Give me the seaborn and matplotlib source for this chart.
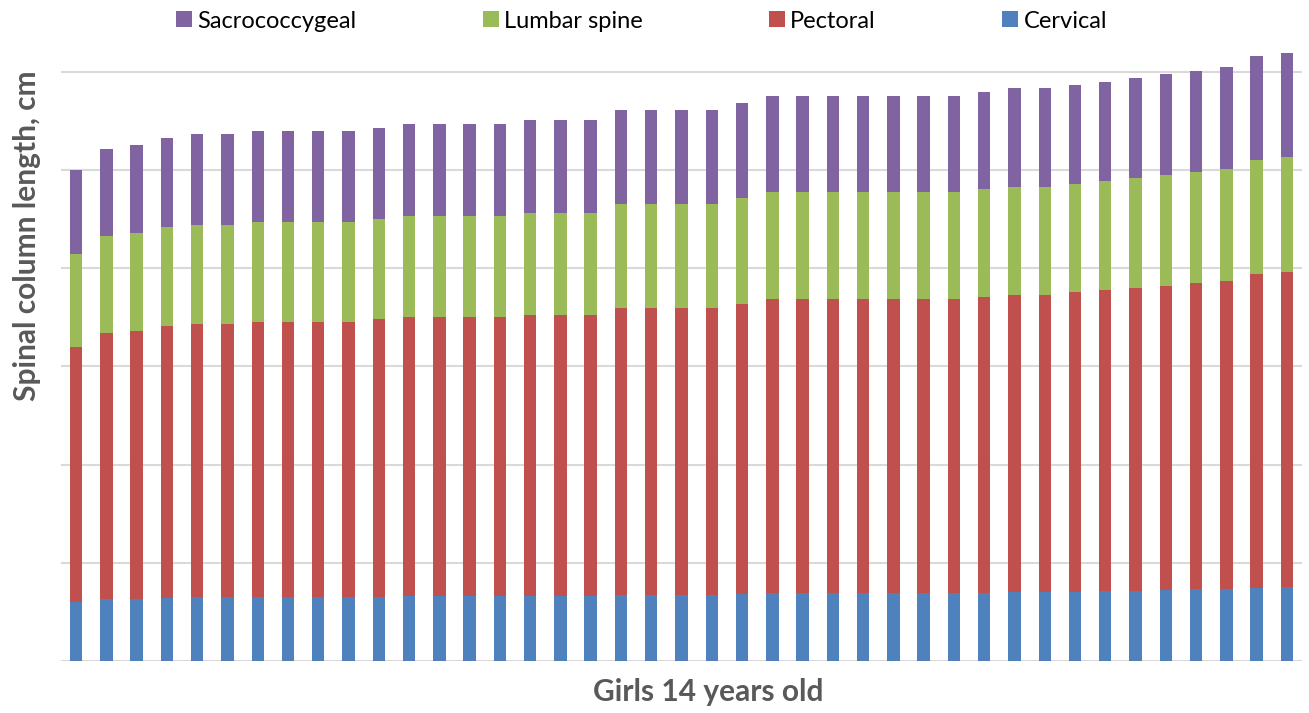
import matplotlib
matplotlib.use("Agg")
import matplotlib.pyplot as plt
from matplotlib.patches import Patch
import numpy as np
import pandas as pd
import seaborn as sns

# ---- data (cm), one value per girl ----
girls = [str(i) for i in range(1, 42)]
cervical = [6.04, 6.28, 6.34, 6.45, 6.49, 6.49, 6.52, 6.52, 6.52, 6.52,
            6.55, 6.62, 6.62, 6.59, 6.59, 6.65, 6.65, 6.65, 6.75, 6.75,
            6.75, 6.75, 6.85, 6.92, 6.92, 6.92, 6.92, 6.92, 6.92, 6.92,
            6.96, 7.03, 7.03, 7.06, 7.10, 7.13, 7.20, 7.30, 7.33, 7.46, 7.51]
pectoral = [25.97, 27.12, 27.30, 27.63, 27.83, 27.83, 28.00, 28.00, 28.00, 28.00,
            28.25, 28.41, 28.41, 28.44, 28.44, 28.58, 28.58, 28.58, 29.20, 29.20,
            29.20, 29.20, 29.54, 29.91, 29.91, 29.91, 29.94, 29.94, 29.94, 29.94,
            30.11, 30.27, 30.27, 30.52, 30.68, 30.88, 31.02, 31.19, 31.40, 31.95, 32.13]
lumbar = [9.47, 9.85, 9.91, 10.08, 10.08, 10.08, 10.18, 10.18, 10.18, 10.18,
          10.21, 10.29, 10.29, 10.29, 10.32, 10.39, 10.39, 10.39, 10.56, 10.56,
          10.56, 10.56, 10.76, 10.90, 10.90, 10.90, 10.87, 10.87, 10.87, 10.87,
          10.96, 11.00, 11.00, 11.03, 11.13, 11.21, 11.27, 11.34, 11.37, 11.61, 11.68]
sacrococcygeal = [8.52, 8.92, 9.00, 9.07, 9.24, 9.24, 9.30, 9.30, 9.30, 9.30,
                  9.30, 9.36, 9.36, 9.36, 9.37, 9.44, 9.44, 9.44, 9.63, 9.63,
                  9.63, 9.63, 9.70, 9.84, 9.84, 9.84, 9.84, 9.84, 9.84, 9.84,
                  9.91, 10.02, 10.02, 10.05, 10.08, 10.18, 10.26, 10.28, 10.36, 10.56, 10.56]

series_names = ["Cervical", "Pectoral", "Lumbar spine", "Sacrococcygeal"]
colors = {"Cervical": "#4F81BD", "Pectoral": "#C0504D",
          "Lumbar spine": "#9BBB59", "Sacrococcygeal": "#8064A2"}

df = pd.DataFrame({"girl": girls, "Cervical": cervical, "Pectoral": pectoral,
                   "Lumbar spine": lumbar, "Sacrococcygeal": sacrococcygeal})
cum = df[series_names].cumsum(axis=1)
cum["girl"] = df["girl"]

sns.set_theme(style="white")
plt.rcParams["font.family"] = ["Lato", "DejaVu Sans"]

fig = plt.figure(figsize=(13.09, 7.13), dpi=100)
ax = fig.add_axes([61 / 1309, 1 - 661 / 713, (1302 - 61) / 1309, (661 - 45) / 713])

# draw cumulative layers from the top segment down so each stacks visually
for name in reversed(series_names):
    sns.barplot(data=cum, x="girl", y=name, order=girls, color=colors[name],
                width=0.41, ax=ax, saturation=1, linewidth=0, zorder=3)

ax.set_xlim(-0.5, len(girls) - 0.5)
ax.set_ylim(0, 62.73)
ax.set_yticks(np.arange(0, 61, 10))
ax.yaxis.grid(True, color="#D9D9D9", linewidth=1.5, zorder=0)
ax.xaxis.grid(False)
ax.tick_params(axis="both", length=0, labelleft=False, labelbottom=False)
for s in ax.spines.values():
    s.set_visible(False)
ax.set_xlabel("")
ax.set_ylabel("")

fig.text(708 / 1309, 1 - 692 / 713, "Girls 14 years old", ha="center", va="center",
         fontsize=21.5, fontweight="bold", color="#595959")
fig.text(27 / 1309, 1 - 236 / 713, "Spinal column length, cm", ha="center", va="center",
         rotation=90, fontsize=21.5, fontweight="bold", color="#595959")

handles = [Patch(facecolor=colors[n], edgecolor="none", label=n)
           for n in ["Sacrococcygeal", "Lumbar spine", "Pectoral", "Cervical"]]
fig.legend(handles=handles, loc="center", ncol=4, frameon=False,
           bbox_to_anchor=(641.5 / 1309, 1 - 21 / 713), fontsize=17,
           handlelength=0.68, handleheight=0.68, handletextpad=0.22,
           columnspacing=5.35, borderpad=0, labelcolor="black")

fig.savefig("out.png", dpi=100)
